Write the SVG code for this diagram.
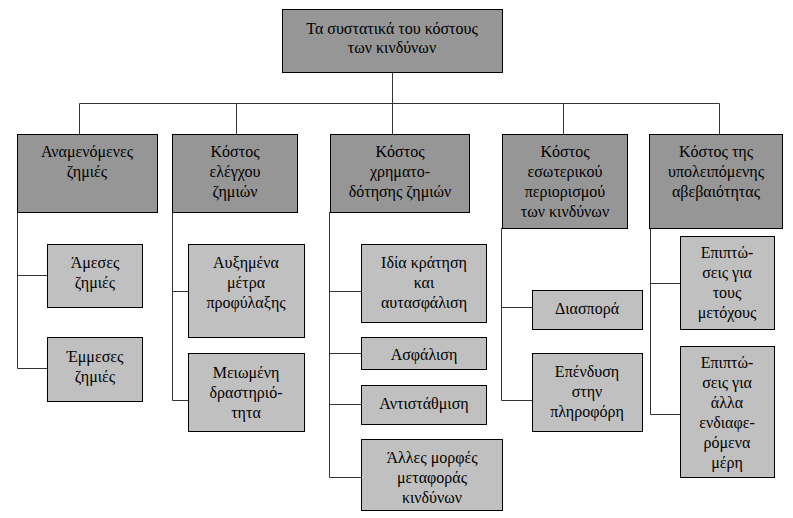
<svg xmlns="http://www.w3.org/2000/svg" width="793" height="518" viewBox="0 0 793 518">
<style>
text{font-family:"Liberation Serif","Times New Roman",serif;font-size:16px;fill:#000;text-anchor:middle}
.l1{fill:#969696;stroke:#000;stroke-width:1}
.l2{fill:#c0c0c0;stroke:#000;stroke-width:1}
.c{fill:none;stroke:#333;stroke-width:1}
</style>
<rect width="793" height="518" fill="#fff"/>
<g id="connectors">
<path class="c" d="M392.5 72V103.5M79.5 103.5H719.5M79.5 103.5V134M236.5 103.5V134M392.5 103.5V134M563.5 103.5V134M719.5 103.5V134"/>
<path class="c" d="M17.5 212V368.5M17.5 275.5H47M17.5 368.5H47"/>
<path class="c" d="M172.5 212V400.5M172.5 291.5H188M172.5 400.5H188"/>
<path class="c" d="M329.5 212V477.5M329.5 291.5H361M329.5 353.5H361M329.5 404.5H361M329.5 477.5H361"/>
<path class="c" d="M501.5 228V400.5M501.5 307.5H532M501.5 400.5H532"/>
<path class="c" d="M650.5 228V414.5M650.5 283.5H680M650.5 414.5H680"/>
</g>
<g id="root"><rect class="l1" x="282.5" y="9.5" width="220" height="63"/><text x="392" y="34">Τα συστατικά του κόστους</text><text x="392" y="53">των κινδύνων</text></g>
<g id="n1"><rect class="l1" x="17.5" y="134.5" width="140" height="78"/><text x="87" y="157">Αναμενόμενες</text><text x="87" y="177">ζημιές</text></g>
<g id="n2"><rect class="l1" x="172.5" y="134.5" width="125" height="78"/><text x="235" y="157">Κόστος</text><text x="235" y="177">ελέγχου</text><text x="235" y="197">ζημιών</text></g>
<g id="n3"><rect class="l1" x="330.5" y="134.5" width="139" height="78"/><text x="400" y="157">Κόστος</text><text x="400" y="177">χρηματο-</text><text x="400" y="197">δότησης ζημιών</text></g>
<g id="n4"><rect class="l1" x="502.5" y="134.5" width="125" height="94"/><text x="565" y="157">Κόστος</text><text x="565" y="177">εσωτερικού</text><text x="565" y="197">περιορισμού</text><text x="565" y="217">των κινδύνων</text></g>
<g id="n5"><rect class="l1" x="649.5" y="134.5" width="133" height="94"/><text x="716" y="157">Κόστος της</text><text x="716" y="177">υπολειπόμενης</text><text x="716" y="197">αβεβαιότητας</text></g>
<g id="n1a"><rect class="l2" x="47.5" y="244.5" width="95" height="63"/><text x="95" y="268">Άμεσες</text><text x="95" y="288">ζημιές</text></g>
<g id="n1b"><rect class="l2" x="47.5" y="337.5" width="95" height="64"/><text x="95" y="362">Έμμεσες</text><text x="95" y="382">ζημιές</text></g>
<g id="n2a"><rect class="l2" x="188.5" y="244.5" width="116" height="93"/><text x="246" y="268">Αυξημένα</text><text x="246" y="288">μέτρα</text><text x="246" y="308">προφύλαξης</text></g>
<g id="n2b"><rect class="l2" x="188.5" y="353.5" width="116" height="78"/><text x="246" y="378">Μειωμένη</text><text x="246" y="398">δραστηριό-</text><text x="246" y="418">τητα</text></g>
<g id="n3a"><rect class="l2" x="361.5" y="244.5" width="125" height="78"/><text x="424" y="268">Ιδία κράτηση</text><text x="424" y="288">και</text><text x="424" y="308">αυτασφάλιση</text></g>
<g id="n3b"><rect class="l2" x="361.5" y="337.5" width="125" height="32"/><text x="424" y="360">Ασφάλιση</text></g>
<g id="n3c"><rect class="l2" x="361.5" y="385.5" width="125" height="39"/><text x="424" y="409">Αντιστάθμιση</text></g>
<g id="n3d"><rect class="l2" x="361.5" y="439.5" width="141" height="71"/><text x="432" y="463">Άλλες μορφές</text><text x="432" y="483">μεταφοράς</text><text x="432" y="503">κινδύνων</text></g>
<g id="n4a"><rect class="l2" x="532.5" y="290.5" width="110" height="39"/><text x="587" y="314">Διασπορά</text></g>
<g id="n4b"><rect class="l2" x="532.5" y="353.5" width="110" height="78"/><text x="587" y="377">Επένδυση</text><text x="587" y="397">στην</text><text x="587" y="417">πληροφόρη</text></g>
<g id="n5a"><rect class="l2" x="680.5" y="236.5" width="94" height="93"/><text x="727" y="258">Επιπτώ-</text><text x="727" y="278">σεις για</text><text x="727" y="298">τους</text><text x="727" y="318">μετόχους</text></g>
<g id="n5b"><rect class="l2" x="680.5" y="346.5" width="94" height="131"/><text x="727" y="368">Επιπτώ-</text><text x="727" y="388">σεις για</text><text x="727" y="408">άλλα</text><text x="727" y="428">ενδιαφε-</text><text x="727" y="448">ρόμενα</text><text x="727" y="468">μέρη</text></g>
</svg>
